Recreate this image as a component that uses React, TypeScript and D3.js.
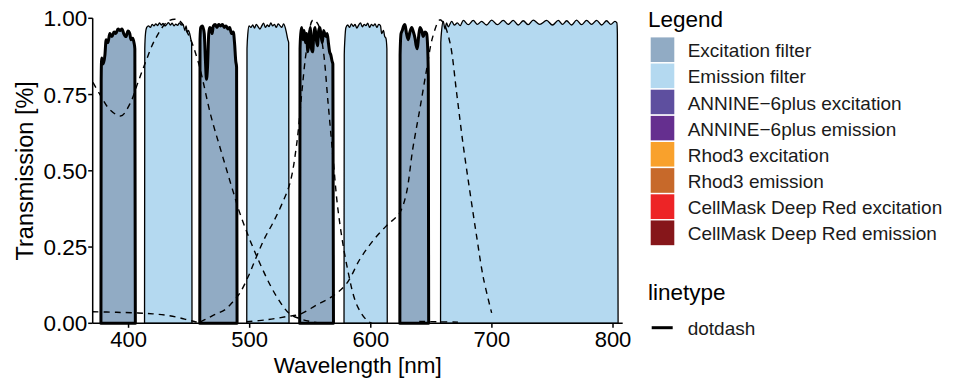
import React from "react";
import * as d3 from "d3";

// axis ticks
const xTicks = [400, 500, 600, 700, 800];
const yTicks = [0, 0.25, 0.5, 0.75, 1.0];

// filter transmission curves: [wavelength nm, transmission]
const excitation1: [number, number][] = [
  [377.2, 0], [377.4, 0.8], [377.8, 0.87], [379.0, 0.85], [380.5, 0.88], [381.5, 0.93], [383.0, 0.92],
  [384.5, 0.95], [386.3, 0.94], [388.0, 0.955], [389.5, 0.95], [391.3, 0.965], [393.0, 0.96], [394.6, 0.965],
  [396.0, 0.95], [397.9, 0.94], [399.5, 0.958], [401.0, 0.95], [402.0, 0.93], [403.5, 0.935], [404.5, 0.92],
  [405.2, 0.9], [405.6, 0],
];
const excitation2: [number, number][] = [
  [458.8, 0], [459.0, 0.93], [459.6, 0.97], [461.0, 0.975], [462.5, 0.95], [463.5, 0.86], [464.3, 0.8],
  [465.2, 0.84], [466.2, 0.95], [467.0, 0.97], [468.0, 0.965], [469.0, 0.95], [470.0, 0.975], [471.5, 0.98],
  [473.0, 0.97], [474.5, 0.98], [476.0, 0.975], [477.5, 0.98], [479.0, 0.97], [480.5, 0.975], [482.0, 0.965],
  [483.5, 0.97], [485.0, 0.95], [486.5, 0.955], [487.5, 0.92], [488.5, 0.86], [489.2, 0.84], [489.6, 0],
];
const excitation3: [number, number][] = [
  [541.3, 0], [541.6, 0.9], [542.2, 0.95], [543.0, 0.97], [544.0, 0.93], [545.0, 0.96], [546.0, 0.92],
  [547.0, 0.95], [548.0, 0.89], [549.0, 0.93], [550.0, 0.97], [551.0, 0.9], [552.0, 0.89], [553.0, 0.95],
  [554.0, 0.97], [555.0, 0.93], [556.0, 0.91], [557.0, 0.96], [558.0, 0.97], [559.0, 0.94], [560.0, 0.92],
  [561.0, 0.96], [562.0, 0.95], [563.0, 0.94], [564.0, 0.95], [565.0, 0.92], [566.0, 0.89], [567.0, 0.88],
  [568.0, 0.86], [568.7, 0.85], [569.2, 0],
];
const excitation4: [number, number][] = [
  [624.0, 0], [624.2, 0.88], [625.0, 0.95], [626.0, 0.96], [627.2, 0.975], [628.2, 0.98], [629.5, 0.95],
  [630.9, 0.93], [632.3, 0.955], [633.8, 0.97], [635.2, 0.955], [636.5, 0.935], [637.5, 0.91], [638.4, 0.9],
  [639.5, 0.94], [640.6, 0.97], [642.0, 0.96], [643.3, 0.94], [644.7, 0.955], [646.1, 0.95], [647.0, 0.9],
  [647.5, 0.81], [647.8, 0],
];
const emission1: [number, number][] = [
  [413.2, 0], [413.4, 0.9], [414.0, 0.95], [415.0, 0.97], [416.5, 0.975], [418.0, 0.97], [419.5, 0.98],
  [421.0, 0.975], [422.5, 0.982], [424.0, 0.976], [425.5, 0.985], [427.0, 0.978], [428.5, 0.983], [430.0, 0.975],
  [431.5, 0.98], [433.0, 0.986], [434.5, 0.978], [436.0, 0.984], [437.5, 0.975], [439.0, 0.981], [440.5, 0.977],
  [442.0, 0.985], [443.5, 0.978], [445.0, 0.98], [446.5, 0.96], [447.5, 0.975], [448.5, 0.955], [449.5, 0.96],
  [450.5, 0.95], [451.5, 0.93], [452.1, 0.92], [452.4, 0],
];
const emission2: [number, number][] = [
  [497.6, 0], [497.8, 0.9], [498.5, 0.95], [499.5, 0.975], [501.0, 0.97], [502.5, 0.978], [504.0, 0.968],
  [505.5, 0.98], [507.0, 0.972], [508.5, 0.965], [510.0, 0.975], [511.5, 0.984], [513.0, 0.97], [514.5, 0.978],
  [516.0, 0.973], [517.5, 0.985], [519.0, 0.975], [520.5, 0.98], [522.0, 0.97], [523.5, 0.982], [525.0, 0.976],
  [526.5, 0.97], [528.0, 0.982], [529.5, 0.968], [530.5, 0.95], [531.5, 0.93], [532.2, 0.92], [532.5, 0],
];
const emission3: [number, number][] = [
  [577.9, 0], [578.1, 0.88], [578.6, 0.93], [579.5, 0.97], [581.0, 0.978], [582.5, 0.97], [584.0, 0.982],
  [585.5, 0.974], [587.0, 0.98], [588.5, 0.968], [590.0, 0.978], [591.5, 0.985], [593.0, 0.972], [594.5, 0.98],
  [596.0, 0.976], [597.5, 0.984], [599.0, 0.97], [600.5, 0.98], [602.0, 0.975], [603.5, 0.982], [605.0, 0.97],
  [606.5, 0.98], [608.0, 0.976], [609.0, 0.95], [610.5, 0.96], [611.5, 0.94], [612.5, 0.935], [613.3, 0.9],
  [613.6, 0],
];
const emission4: [number, number][] = [
  [657.6, 0], [657.8, 0.92], [658.5, 0.96], [659.8, 0.99], [661.3, 0.965], [662.5, 0.985], [664.0, 0.972],
  [666.8, 0.99], [669.0, 0.978], [671.5, 0.985], [673.8, 0.976], [676.4, 0.993], [680.5, 0.979], [684.6, 0.993],
  [688.0, 0.98], [691.5, 0.99], [695.5, 0.978], [699.8, 0.994], [704.5, 0.979], [709.4, 0.993], [713.5, 0.98],
  [717.6, 0.993], [721.7, 0.978], [725.9, 0.992], [730.0, 0.979], [734.1, 0.994], [739.5, 0.98], [745.2, 0.993],
  [750.0, 0.978], [754.8, 0.993], [758.3, 0.98], [761.7, 0.992], [765.8, 0.978], [769.9, 0.994], [774.0, 0.979],
  [778.2, 0.993], [782.3, 0.98], [786.5, 0.993], [790.6, 0.978], [794.7, 0.992], [798.2, 0.98], [801.6, 0.99],
  [803.2, 0.985], [803.6, 0.95], [804.2, 0],
];

// dye spectra (all drawn dashed black)
const annineExcitation: [number, number][] = [
  [370.6, 0.79], [376.4, 0.75], [384.7, 0.7], [393.8, 0.68], [401.2, 0.72], [407.8, 0.79], [414.4, 0.86],
  [421.8, 0.93], [432.5, 0.99], [440.8, 0.995], [449.0, 0.95], [457.3, 0.86], [468.0, 0.68], [476.0, 0.57],
  [486.5, 0.43], [492.0, 0.36], [505.8, 0.22], [522.3, 0.087], [533.3, 0.03], [541.6, 0.015], [550.0, 0.006],
  [560.0, 0.0],
];
const annineTail: [number, number][] = [
  [370.4, 0.038], [390.0, 0.036], [407.8, 0.034], [420.0, 0.031], [429.8, 0.027], [440.0, 0.02],
  [449.0, 0.011], [455.0, 0.005], [460.0, 0.002],
];
const rhod3Excitation: [number, number][] = [
  [459.0, 0.004], [465.6, 0.017], [472.0, 0.03], [479.4, 0.044], [486.0, 0.07], [492.0, 0.1], [499.0, 0.155],
  [505.8, 0.22], [512.5, 0.28], [519.3, 0.33], [526.5, 0.39], [533.3, 0.46], [538.9, 0.59], [543.0, 0.755],
  [547.1, 0.9], [552.3, 0.995], [556.5, 0.98], [560.6, 0.9], [564.8, 0.72], [568.9, 0.54], [573.0, 0.37],
  [580.2, 0.19], [588.5, 0.06], [596.7, 0.01], [601.0, 0.0],
];
const cellMaskExcitation: [number, number][] = [
  [497.5, 0.005], [515.0, 0.012], [530.5, 0.022], [541.6, 0.03], [555.3, 0.06], [568.9, 0.09], [580.0, 0.13],
  [591.0, 0.21], [601.7, 0.27], [613.0, 0.32], [621.4, 0.35], [625.0, 0.37], [629.6, 0.43], [634.6, 0.57],
  [640.4, 0.7], [646.0, 0.83], [651.2, 0.94], [657.0, 0.995], [660.0, 0.985], [665.4, 0.92], [670.9, 0.755],
  [676.1, 0.59], [681.9, 0.43], [687.4, 0.285], [692.9, 0.15], [699.8, 0.034],
];
const cellMaskTail: [number, number][] = [
  [640.0, 0.006], [655.0, 0.005], [672.0, 0.004],
];

const legendLabels = [
  "Excitation filter",
  "Emission filter",
  "ANNINE\u22126plus excitation",
  "ANNINE\u22126plus emission",
  "Rhod3 excitation",
  "Rhod3 emission",
  "CellMask Deep Red excitation",
  "CellMask Deep Red emission",
];
const legendColors = [
  "#91abc4", "#b4d9f0", "#5e4f9f", "#652f8f", "#f9a12c", "#c7692a", "#ed2426", "#86161a",
];

const excitationFilters = [excitation1, excitation2, excitation3, excitation4];
const emissionFilters = [emission1, emission2, emission3, emission4];
const spectra = [annineExcitation, annineTail, rhod3Excitation, cellMaskExcitation, cellMaskTail];

const FONT = "'Liberation Sans', Arial, Helvetica, sans-serif";

export default function App() {
  const width = 955;
  const height = 380;
  const left = 92.7;
  const right = 622.7;
  const top = 18.3;
  const bottom = 323.3;

  const x = d3.scaleLinear().domain([370.4, 808.0]).range([left, right]);
  const y = d3.scaleLinear().domain([0, 1]).range([bottom, top]);

  const area = d3
    .line<[number, number]>()
    .x((d) => x(d[0]))
    .y((d) => y(d[1]))
    .curve(d3.curveMonotoneX);

  const curve = d3
    .line<[number, number]>()
    .x((d) => x(d[0]))
    .y((d) => y(d[1]))
    .curve(d3.curveCatmullRom.alpha(0.5));

  const keyTop = 36.7;
  const keyStep = 26.15;

  return (
    <svg
      width={width}
      height={height}
      style={{ position: "absolute", left: 0, top: 0, background: "#ffffff" }}
    >
      {/* emission filters */}
      {emissionFilters.map((f, i) => (
        <path
          key={"em" + i}
          d={area(f) + "Z"}
          fill={legendColors[1]}
          stroke="#000"
          strokeWidth={1.3}
          strokeLinejoin="round"
        />
      ))}
      {/* excitation filters */}
      {excitationFilters.map((f, i) => (
        <path
          key={"ex" + i}
          d={area(f) + "Z"}
          fill={legendColors[0]}
          stroke="#000"
          strokeWidth={3}
          strokeLinejoin="round"
        />
      ))}
      {/* spectra */}
      {spectra.map((s, i) => (
        <path
          key={"sp" + i}
          d={curve(s) || ""}
          fill="none"
          stroke="#000"
          strokeWidth={1.4}
          strokeDasharray="6 5"
        />
      ))}

      {/* axes */}
      <line x1={left} x2={left} y1={top} y2={bottom} stroke="#000" strokeWidth={1.5} />
      <line x1={left} x2={right} y1={bottom} y2={bottom} stroke="#000" strokeWidth={1.5} />
      {yTicks.map((t) => (
        <g key={"yt" + t}>
          <line x1={left - 4.5} x2={left} y1={y(t)} y2={y(t)} stroke="#000" strokeWidth={1.5} />
          <text
            x={left - 5.5}
            y={y(t) + 8}
            textAnchor="end"
            fontSize={22.5}
            fontFamily={FONT}
            fill="#000"
          >
            {d3.format(".2f")(t)}
          </text>
        </g>
      ))}
      {xTicks.map((t) => (
        <g key={"xt" + t}>
          <line x1={x(t)} x2={x(t)} y1={bottom} y2={bottom + 4.5} stroke="#000" strokeWidth={1.5} />
          <text
            x={x(t)}
            y={347}
            textAnchor="middle"
            fontSize={22}
            fontFamily={FONT}
            fill="#000"
          >
            {t}
          </text>
        </g>
      ))}
      <text
        x={(left + right) / 2}
        y={372.5}
        textAnchor="middle"
        fontSize={22.5}
        fontFamily={FONT}
        fill="#000"
      >
        Wavelength [nm]
      </text>
      <text
        transform={`translate(33,${(top + bottom) / 2}) rotate(-90)`}
        textAnchor="middle"
        fontSize={23.5}
        fontFamily={FONT}
        fill="#000"
      >
        Transmission [%]
      </text>

      {/* fill legend */}
      <text x={648} y={27} fontSize={22.5} fontFamily={FONT} fill="#000">
        Legend
      </text>
      {legendLabels.map((label, i) => (
        <g key={"lg" + i}>
          <rect
            x={650}
            y={keyTop + i * keyStep}
            width={25}
            height={keyStep}
            fill={legendColors[i]}
            stroke="#fff"
            strokeWidth={1.4}
          />
          <text
            x={687.7}
            y={keyTop + i * keyStep + keyStep / 2 + 7.5}
            fontSize={19}
            fontFamily={FONT}
            fill="#1a1a1a"
          >
            {label}
          </text>
        </g>
      ))}

      {/* linetype legend */}
      <text x={648} y={300} fontSize={22.5} fontFamily={FONT} fill="#000">
        linetype
      </text>
      <line x1={651.7} x2={672.7} y1={327.7} y2={327.7} stroke="#000" strokeWidth={3} />
      <text x={687.7} y={334.5} fontSize={19} fontFamily={FONT} fill="#1a1a1a">
        dotdash
      </text>
    </svg>
  );
}
